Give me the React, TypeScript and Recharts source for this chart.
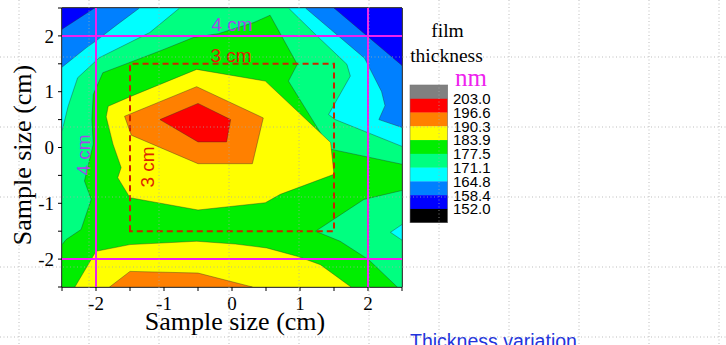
import React from 'react';
import { ScatterChart, Scatter, XAxis, YAxis } from 'recharts';

// ---------- data (cm coordinates of filled contour regions) ----------
const axisTicks = [-2.5, -2, -1.5, -1, -0.5, 0, 0.5, 1, 1.5, 2, 2.5];

const azureBase = [[-2.5, -2.5], [-2.5, 2.5], [2.5, 2.5], [2.5, -2.5]];
const blueTopLeft = [[-2.5, 2.5], [-2.5, 2.12], [-2.02, 2.5]];
const blueTopRight = [[1.5, 2.5], [2.5, 2.5], [2.5, 1.47]];
const cyanRegion = [
  [-1.36, 2.5], [1.08, 2.5], [1.95, 1.6], [2.2, 1.0], [2.25, 0.75], [2.16, 0.5], [2.5, 0.36],
  [2.5, -2.5], [-2.5, -2.5], [-2.5, 1.44], [-2.14, 1.79], [-1.99, 1.92], [-1.68, 2.21],
];
const springRegion = [
  [-0.77, 2.5], [0.83, 2.5], [1.25, 2.0], [1.69, 1.49], [1.74, 1.28], [1.42, 0.59], [1.52, 0.5],
  [2.5, 0.02], [2.5, -2.5], [-2.5, -2.5], [-2.5, 0.29], [-2.41, 0.74], [-2.27, 1.25],
  [-1.95, 1.61], [-1.21, 2.06],
];
const cyanPatch = [[2.5, -1.38], [2.33, -1.52], [2.5, -1.66]];
const greenRegion = [
  [-2.5, -1.74], [-2.44, -1.65], [-2.22, -1.47], [-2.07, -0.93], [-2.17, -0.6], [-2.04, 0.06],
  [-2.06, 0.5], [-2.04, 0.95], [-1.9, 1.34], [-1.06, 1.73], [-0.57, 1.97], [-0.2, 2.04],
  [0.32, 2.24], [0.56, 2.37], [0.96, 1.49], [0.83, 1.19], [1.45, -0.03], [2.5, -0.3],
  [2.5, -0.77], [1.94, -0.93], [1.23, -1.5], [1.59, -1.68], [2.01, -2.01], [2.43, -2.5],
  [-2.5, -2.5],
];
const yellowCenter = [
  [-1.85, 0.55], [-1.82, 0.74], [-1.48, 0.92], [-0.52, 1.4], [0.49, 1.19], [1.45, 0.09],
  [1.5, -0.48], [0.71, -0.84], [0.49, -0.99], [-0.5, -1.12], [-1.5, -0.9], [-1.68, -0.54],
  [-1.63, -0.36], [-1.75, 0.06],
];
const yellowBottom = [
  [-2.31, -2.5], [-2.0, -1.86], [-1.5, -1.74], [-0.52, -1.68], [0.05, -1.73], [0.51, -1.8],
  [0.96, -1.95], [1.3, -2.1], [1.75, -2.5],
];
const orangeCenter = [[-1.58, 0.56], [-0.52, 1.09], [0.46, 0.53], [0.3, -0.29], [-0.5, -0.29], [-1.48, 0.22]];
const orangeBottom = [[-1.8, -2.5], [-1.5, -2.22], [-0.5, -2.25], [0.3, -2.5]];
const redCenter = [[-1.06, 0.5], [-0.5, 0.79], [-0.02, 0.5], [-0.08, 0.1], [-0.5, 0.1]];

// marker lines (4 cm square) and dashed 3 cm square
const lineXneg = [[-2, -2.5], [-2, 2.5]];
const lineXpos = [[2, -2.5], [2, 2.5]];
const lineYpos = [[-2.5, 2], [2.5, 2]];
const lineYneg = [[-2.5, -2], [2.5, -2]];
const square3cm = [[-1.5, -1.5], [-1.5, 1.5], [1.5, 1.5], [1.5, -1.5]];

const legendColors = ['#808080', '#ff0000', '#ff8000', '#ffff00', '#00ee00', '#00ff80', '#00ffff', '#0080ff', '#0000ff', '#000000'];
const legendLabels = ['203.0', '196.6', '190.3', '183.9', '177.5', '171.1', '164.8', '158.4', '152.0'];

const regions = [
  { name: 'azure', pts: azureBase, color: '#0080ff' },
  { name: 'blueTL', pts: blueTopLeft, color: '#0000ff' },
  { name: 'blueTR', pts: blueTopRight, color: '#0000ff' },
  { name: 'cyan', pts: cyanRegion, color: '#00ffff' },
  { name: 'spring', pts: springRegion, color: '#00ff80' },
  { name: 'cyanPatch', pts: cyanPatch, color: '#00ffff' },
  { name: 'green', pts: greenRegion, color: '#00ee00' },
  { name: 'yellowC', pts: yellowCenter, color: '#ffff00' },
  { name: 'yellowB', pts: yellowBottom, color: '#ffff00' },
  { name: 'orangeC', pts: orangeCenter, color: '#ff8000' },
  { name: 'orangeB', pts: orangeBottom, color: '#ff8000' },
  { name: 'redC', pts: redCenter, color: '#ff0000' },
];

const MAG = '#ee22ee';
const markerLines = [lineXneg, lineXpos, lineYpos, lineYneg];

const toPts = (arr: number[][]) => arr.map(([x, y]) => ({ x, y }));
const fmt = (v: number) => (Number.isInteger(v) ? String(v) : '');
const noShape = () => <g />;
const ptsStr = (props: any) => (props.points || []).map((p: any) => `${p.x},${p.y}`).join(' ');
const polyLine = (fill: string) => (props: any) => (
  <polygon points={ptsStr(props)} fill={fill} stroke="#2a2a2a" strokeOpacity={0.55} strokeWidth={0.7} />
);
const straightLine = (props: any) => (
  <polyline points={ptsStr(props)} fill="none" stroke={MAG} strokeWidth={2} />
);
const dashedSquare = (props: any) => (
  <polygon points={ptsStr(props)} fill="none" stroke="#cc2200" strokeWidth={2} strokeDasharray="6 4" />
);

const serif = 'Liberation Serif, Times New Roman, serif';
const sans = 'Liberation Sans, Arial, sans-serif';

const gridX = [19, 89, 159, 229, 299, 369, 439, 509, 579, 649, 719];
const gridY = [57, 127, 197, 267, 337];

export default function App() {
  const barTop = 85;
  const rowH = 13.77;
  return (
    <div style={{ position: 'absolute', left: 0, top: 0, width: 726, height: 345, background: '#fff', overflow: 'hidden' }}>
      <ScatterChart width={726} height={345} margin={{ top: 8, right: 324, bottom: 28, left: 22 }}>
        <XAxis
          type="number" dataKey="x" domain={[-2.5, 2.5]} ticks={axisTicks} interval={0}
          tickFormatter={fmt} allowDataOverflow height={30} tickSize={4} tickMargin={6}
          axisLine={{ stroke: '#000', strokeWidth: 1.5 }} tickLine={{ stroke: '#000' }}
          tick={{ fontFamily: serif, fontSize: 19, fill: '#000' }}
        />
        <XAxis
          xAxisId="top" orientation="top" type="number" dataKey="x" domain={[-2.5, 2.5]} ticks={axisTicks}
          interval={0} allowDataOverflow height={1} mirror tick={false} tickSize={4}
          axisLine={{ stroke: '#000', strokeWidth: 1.5 }} tickLine={{ stroke: '#000' }}
        />
        <YAxis
          type="number" dataKey="y" domain={[-2.5, 2.5]} ticks={axisTicks} interval={0}
          tickFormatter={fmt} allowDataOverflow width={40} tickSize={4} tickMargin={4}
          axisLine={{ stroke: '#000', strokeWidth: 1.5 }} tickLine={{ stroke: '#000' }}
          tick={{ fontFamily: serif, fontSize: 19, fill: '#000' }}
        />
        <YAxis
          yAxisId="right" orientation="right" type="number" dataKey="y" domain={[-2.5, 2.5]} ticks={axisTicks}
          interval={0} allowDataOverflow width={1} mirror tick={false} tickSize={4}
          axisLine={{ stroke: '#000', strokeWidth: 1.5 }} tickLine={{ stroke: '#000' }}
        />
        {regions.map((r) => (
          <Scatter
            key={r.name}
            name={r.name}
            data={toPts(r.pts)}
            fill={r.color}
            line={polyLine(r.color)}
            lineType="joint"
            shape={noShape}
            isAnimationActive={false}
          />
        ))}
        <Scatter
          name="square3"
          data={toPts(square3cm)}
          fill="#cc2200"
          line={dashedSquare}
          lineType="joint"
          shape={noShape}
          isAnimationActive={false}
        />
        {markerLines.map((l, i) => (
          <Scatter
            key={'ml' + i}
            name={'ml' + i}
            data={toPts(l)}
            fill={MAG}
            line={straightLine}
            lineType="joint"
            shape={noShape}
            isAnimationActive={false}
          />
        ))}
      </ScatterChart>

      <svg width={726} height={345} style={{ position: 'absolute', left: 0, top: 0, pointerEvents: 'none' }}>
        {/* annotations */}
        <text x={232} y={31} textAnchor="middle" fontFamily={sans} fontSize={19} fill="#a347e8">4 cm</text>
        <text x={231} y={61.5} textAnchor="middle" fontFamily={sans} fontSize={19} fill="#dd2200">3 cm</text>
        <text transform="translate(90,155) rotate(-90)" textAnchor="middle" fontFamily={sans} fontSize={19} fill="#a347e8">4 cm</text>
        <text transform="translate(154,167) rotate(-90)" textAnchor="middle" fontFamily={sans} fontSize={19} fill="#dd2200">3 cm</text>

        {/* axis titles */}
        <text x={235} y={330} textAnchor="middle" fontFamily={serif} fontSize={26} fill="#000">Sample size (cm)</text>
        <text transform="translate(31,155) rotate(-90)" textAnchor="middle" fontFamily={serif} fontSize={26} fill="#000">Sample size (cm)</text>

        {/* legend */}
        <text x={447.5} y={36.5} textAnchor="middle" fontFamily={serif} fontSize={19.5} fill="#000">film</text>
        <text x={446.5} y={61.5} textAnchor="middle" fontFamily={serif} fontSize={19.5} fill="#000">thickness</text>
        <text x={455} y={86} fontFamily={serif} fontSize={25} fill={MAG}>nm</text>
        {legendColors.map((c, i) => (
          <rect key={c + i} x={410} y={barTop + i * rowH} width={37.7} height={rowH + 0.3} fill={c} />
        ))}
        <rect x={410} y={barTop} width={37.7} height={rowH * legendColors.length} fill="none" stroke="#777" strokeWidth={0.6} />
        {legendLabels.map((l, i) => (
          <text key={l} x={453} y={barTop + (i + 1) * rowH} dy="0.36em" fontFamily={sans} fontSize={15} fill="#000">{l}</text>
        ))}

        <text x={410} y={348} fontFamily={sans} fontSize={19.5} fill="#2233dd">Thickness variation</text>

        {/* page dotted grid */}
        {gridX.map((x) => (
          <line key={'gx' + x} x1={x} y1={0} x2={x} y2={345} stroke="#a8a8a8" strokeWidth={1} strokeDasharray="1 2.5" opacity={0.75} />
        ))}
        {gridY.map((y) => (
          <line key={'gy' + y} x1={0} y1={y} x2={726} y2={y} stroke="#a8a8a8" strokeWidth={1} strokeDasharray="1 2.5" opacity={0.75} />
        ))}
      </svg>
    </div>
  );
}
